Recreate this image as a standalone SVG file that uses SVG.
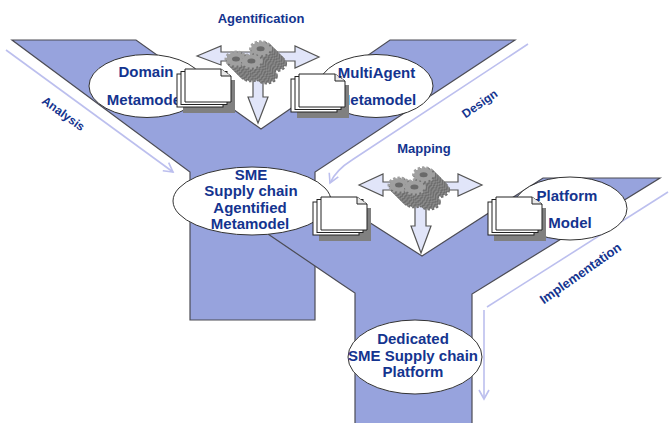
<svg xmlns="http://www.w3.org/2000/svg" xmlns:xlink="http://www.w3.org/1999/xlink" width="669" height="423" viewBox="0 0 669 423">
<style>
text{font-family:"Liberation Sans",Arial,sans-serif;font-weight:bold;fill:#14348f;text-anchor:middle}
.n{font-size:15px}
.l{font-size:13px}
.y{fill:#97a3dd;stroke:#4c4c55;stroke-width:1.2}
.e{fill:#fff;stroke:#333;stroke-width:1}
.f{fill:none;stroke:#bcbfee;stroke-width:1.6}
.b{fill:#e1e5f9;stroke:#555;stroke-width:1.2}
.p{fill:#fff;stroke:#222;stroke-width:1}
</style>
<defs>
<marker id="open" markerWidth="12" markerHeight="12" refX="10" refY="5" orient="auto" markerUnits="userSpaceOnUse" viewBox="0 0 12 10">
<path d="M1 0L10 5L1 10" fill="none" stroke="#bcbfee" stroke-width="1.6"/>
</marker>
<g id="docs">
<rect x="-2" y="11" width="52" height="33" fill="#808080"/>
<rect x="-8" y="5" width="46" height="33" class="p"/>
<rect x="-4" y="2.500" width="46" height="33" class="p"/>
<path d="M0 0H36L46 7V33H0Z" class="p"/>
<path d="M36 0V7H46" fill="#e8e8e8" stroke="#222"/>
</g>
<ellipse id="d0" rx="8.500" ry="5.800" fill="#8a8a8a" stroke="#8a8a8a" stroke-width="3" stroke-dasharray="2 1.600"/>
<ellipse id="d1" rx="8.500" ry="5.800" fill="#6e6e6e" stroke="#6e6e6e" stroke-width="3" stroke-dasharray="2 1.600"/>
<g id="gear">
<use xlink:href="#d1" x="13" y="13"/>
<use xlink:href="#d0" x="12" y="12"/>
<use xlink:href="#d1" x="11" y="11"/>
<use xlink:href="#d0" x="10" y="10"/>
<use xlink:href="#d1" x="9" y="9"/>
<use xlink:href="#d0" x="8" y="8"/>
<use xlink:href="#d1" x="7" y="7"/>
<use xlink:href="#d0" x="6" y="6"/>
<use xlink:href="#d1" x="5" y="5"/>
<use xlink:href="#d0" x="4" y="4"/>
<use xlink:href="#d1" x="3" y="3"/>
<use xlink:href="#d0" x="2" y="2"/>
<use xlink:href="#d1" x="1" y="1"/>
<ellipse rx="8.500" ry="5.800" fill="#a0a0a0" stroke="#a0a0a0" stroke-width="3" stroke-dasharray="2 1.600"/>
<ellipse rx="3.500" ry="2.200" fill="#6a6a6a"/>
</g>
<g id="gears">
<use xlink:href="#gear" x="21.400" y="-8.900"/>
<use xlink:href="#gear" x="0" y="0"/>
<use xlink:href="#gear" x="13.400" y="1.800"/>
</g>
</defs>
<rect width="669" height="423" fill="#fff"/>
<g id="channels">
<polygon class="y" points="12,40 136,40 261,129 390,40 515,40 315,172 315,320 190,320 190,172"/>
<polygon class="y" points="240,215 340,283 355,293 355,430 472,430 472,294 660,178 543,178 422,256 300,178"/>
</g>
<g id="connectors">
<path class="f" d="M6 50L173 172" marker-end="url(#open)"/>
<path class="f" d="M528 44L352 160Q336 170 330 183" marker-end="url(#open)"/>
<path class="f" d="M668 192L487 307"/>
<path class="f" d="M484 310V399" marker-end="url(#open)"/>
</g>
<g id="node-domain">
<ellipse class="e" cx="147" cy="86" rx="58" ry="31.500"/>
<text class="n" x="146" y="77">Domain</text>
<text class="n" x="146" y="105">Metamodel</text>
</g>
<g id="node-multiagent">
<ellipse class="e" cx="376" cy="86" rx="57" ry="31.500"/>
<text class="n" x="377" y="105">Metamodel</text>
</g>
<g id="node-sme">
<ellipse class="e" cx="252" cy="201" rx="79" ry="34"/>
<text class="n" x="251" y="180">SME</text>
<text class="n" x="251" y="196">Supply chain</text>
<text class="n" x="250" y="213">Agentified</text>
<text class="n" x="250" y="229">Metamodel</text>
</g>
<g id="node-platform">
<ellipse class="e" cx="570" cy="208.500" rx="57" ry="31.500"/>
<text class="n" x="570" y="228">Model</text>
</g>
<g id="node-dedicated">
<ellipse class="e" cx="415" cy="357" rx="67" ry="37"/>
<text class="n" x="413" y="344">Dedicated</text>
<text class="n" x="413" y="361">SME Supply chain</text>
<text class="n" x="413" y="377">Platform</text>
</g>
<g id="docs-domain"><use xlink:href="#docs" x="185" y="69"/></g>
<g id="docs-multiagent"><use xlink:href="#docs" x="299" y="74"/></g>
<g id="docs-sme"><use xlink:href="#docs" x="321" y="197"/></g>
<g id="docs-platform"><use xlink:href="#docs" x="496" y="197"/></g>
<g id="label-multiagent"><text class="n" x="376.500" y="78">MultiAgent</text></g>
<g id="label-platform"><text class="n" x="567" y="201">Platform</text></g>
<g id="agentification">
<path class="b" d="M197 56L221 46V52H295V46L319 57L295 68V61H263V97H268L258 123L248 97H253V61H221V65Z"/>
<use xlink:href="#gears" transform="translate(236 59) scale(1.150)"/>
<text class="l" x="261" y="23">Agentification</text>
</g>
<g id="mapping">
<path class="b" d="M359 185L383 174V182H458V174L482 185L458 196V190H426V226H431L421 253L411 226H415V190H383V196Z"/>
<use xlink:href="#gears" transform="translate(399 185) scale(1.150)"/>
<text class="l" x="424" y="153">Mapping</text>
</g>
<g id="phase-labels">
<text class="l" transform="translate(61 117) rotate(36)" style="font-size:12px">Analysis</text>
<text class="l" transform="translate(482 107) rotate(-35)" style="font-size:12px">Design</text>
<text class="l" transform="translate(583 277) rotate(-35)">Implementation</text>
</g>
</svg>
